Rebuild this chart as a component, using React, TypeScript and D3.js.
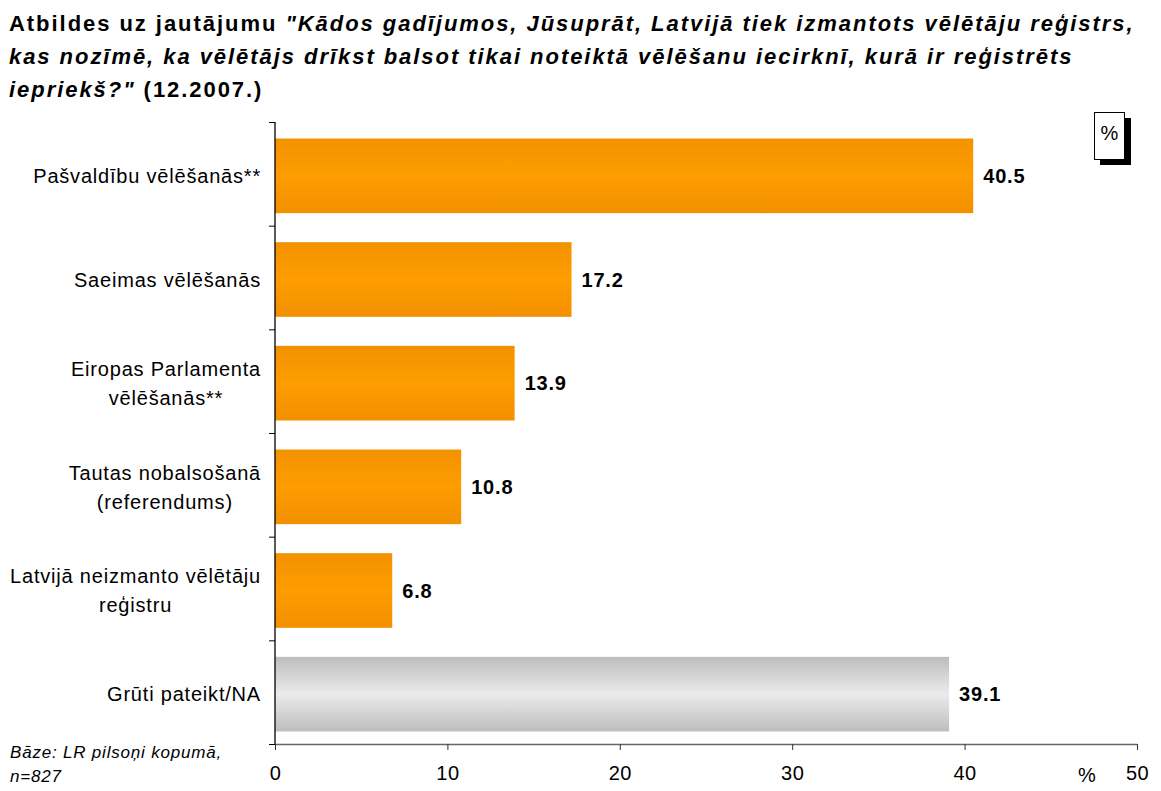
import React, { useEffect, useRef } from "react";
import * as d3 from "d3";

const categories = [
  ["Pašvaldību vēlēšanās**"],
  ["Saeimas vēlēšanās"],
  ["Eiropas Parlamenta", "vēlēšanās**"],
  ["Tautas nobalsošanā", "(referendums)"],
  ["Latvijā neizmanto vēlētāju", "reģistru"],
  ["Grūti pateikt/NA"],
];
const values = [40.5, 17.2, 13.9, 10.8, 6.8, 39.1];
const grayBars = [false, false, false, false, false, true];
const xTicks = [0, 10, 20, 30, 40, 50];

const App = () => {
  const ref = useRef<HTMLDivElement>(null);

  useEffect(() => {
    const el = ref.current;
    if (!el) return;
    el.innerHTML = "";
    const width = 1161;
    const height = 791;
    const marginLeft = 275;
    const marginRight = 24;
    const marginTop = 122;
    const marginBottom = 47;

    const svg = d3
      .create("svg")
      .attr("width", width)
      .attr("height", height)
      .attr("viewBox", [0, 0, width, height])
      .style("display", "block")
      .style("font-family", "'Liberation Sans', Arial, sans-serif");
    el.appendChild(svg.node()!);

    const defs = svg.append("defs");
    const orange = defs
      .append("linearGradient")
      .attr("id", "orange")
      .attr("x1", 0)
      .attr("y1", 0)
      .attr("x2", 0)
      .attr("y2", 1);
    orange.append("stop").attr("offset", "0%").attr("stop-color", "#f39200");
    orange.append("stop").attr("offset", "50%").attr("stop-color", "#fd9d00");
    orange.append("stop").attr("offset", "100%").attr("stop-color", "#f29000");
    const gray = defs
      .append("linearGradient")
      .attr("id", "gray")
      .attr("x1", 0)
      .attr("y1", 0)
      .attr("x2", 0)
      .attr("y2", 1);
    gray.append("stop").attr("offset", "0%").attr("stop-color", "#bdbdbd");
    gray.append("stop").attr("offset", "50%").attr("stop-color", "#ebebeb");
    gray.append("stop").attr("offset", "100%").attr("stop-color", "#bdbdbd");

    // frame
    svg
      .append("rect")
      .attr("x", 2.5)
      .attr("y", 2.5)
      .attr("width", width + 10)
      .attr("height", height + 10)
      .attr("fill", "white")
      .attr("stroke", "#000")
      .attr("stroke-width", 1.5);

    // title
    const title = svg
      .append("text")
      .attr("font-size", 22)
      .attr("font-weight", "bold")
      .attr("letter-spacing", 1.95)
      .attr("fill", "#000");
    const l1 = title.append("tspan").attr("x", 9).attr("y", 31);
    l1.append("tspan").text("Atbildes uz jautājumu ");
    l1.append("tspan")
      .attr("font-style", "italic")
      .text('"Kādos gadījumos, Jūsuprāt, Latvijā tiek izmantots vēlētāju reģistrs,');
    title
      .append("tspan")
      .attr("x", 9)
      .attr("y", 64)
      .attr("font-style", "italic")
      .text("kas nozīmē, ka vēlētājs drīkst balsot tikai noteiktā vēlēšanu iecirknī, kurā ir reģistrēts");
    const l3 = title.append("tspan").attr("x", 9).attr("y", 97);
    l3.append("tspan").attr("font-style", "italic").text('iepriekš?"');
    l3.append("tspan").text(" (12.2007.)");

    const x = d3
      .scaleLinear()
      .domain([0, 50])
      .range([marginLeft, width - marginRight]);

    const y = d3
      .scaleBand()
      .domain(categories.map((d, i) => String(i)))
      .range([marginTop, height - marginBottom])
      .paddingInner(0.28)
      .paddingOuter(0.14);

    const data = values.map((v, i) => ({ key: String(i), v, gray: grayBars[i], label: categories[i] }));

    // bars
    svg
      .append("g")
      .selectAll()
      .data(data)
      .join("rect")
      .attr("x", x(0))
      .attr("y", (d) => y(d.key)! + 2)
      .attr("width", (d) => x(d.v) - x(0))
      .attr("height", y.bandwidth())
      .attr("fill", (d) => (d.gray ? "url(#gray)" : "url(#orange)"));

    // value labels
    svg
      .append("g")
      .attr("font-size", 20)
      .attr("font-weight", "bold")
      .attr("letter-spacing", 0.8)
      .selectAll()
      .data(data)
      .join("text")
      .attr("x", (d) => x(d.v) + 10)
      .attr("y", (d) => y(d.key)! + 2 + y.bandwidth() / 2)
      .attr("dy", "0.36em")
      .text((d) => d.v.toFixed(1));

    // category labels: centred lines, block right-aligned to the axis
    const labels = svg
      .append("g")
      .attr("font-size", 20)
      .attr("letter-spacing", 0.8)
      .attr("text-anchor", "middle")
      .selectAll()
      .data(data)
      .join("text");
    labels
      .selectAll("tspan")
      .data((d) => d.label.map((t, j) => ({ t, j, n: d.label.length })))
      .join("tspan")
      .attr("x", 0)
      .attr("y", (d) => (d.j - (d.n - 1) / 2) * 29)
      .attr("dy", "0.36em")
      .text((d) => d.t);
    labels.attr("transform", function (d) {
      const spans = d3.select(this).selectAll<SVGTSpanElement, unknown>("tspan").nodes();
      const w = d3.max(spans, (s) => s.getComputedTextLength()) || 0;
      return `translate(${261 - w / 2},${y(d.key)! + 2 + y.bandwidth() / 2})`;
    });

    // y axis
    const step = y.step();
    const y0 = marginTop;
    const yAxis = svg.append("g");
    yAxis
      .append("line")
      .attr("x1", x(0))
      .attr("x2", x(0))
      .attr("y1", y0)
      .attr("y2", height - marginBottom)
      .attr("stroke", "#000")
      .attr("stroke-width", 1.3);
    yAxis
      .selectAll("line.tick")
      .data(d3.range(categories.length + 1))
      .join("line")
      .attr("class", "tick")
      .attr("x1", x(0) - 6)
      .attr("x2", x(0))
      .attr("y1", (i) => y0 + i * step + 0.5)
      .attr("y2", (i) => y0 + i * step + 0.5)
      .attr("stroke", "#000");

    // x axis
    const xAxis = svg
      .append("g")
      .attr("transform", `translate(0,${height - marginBottom})`)
      .call(d3.axisBottom(x).tickValues(xTicks).tickSize(6).tickPadding(16))
      .call((g) => g.select(".domain").attr("stroke", "#666").attr("stroke-width", 1.5).attr("d", `M${x(0)},0.5H${x(50)}`));
    xAxis.selectAll(".tick line").attr("stroke", "#333");
    xAxis
      .selectAll(".tick text")
      .attr("font-size", 20)
      .attr("letter-spacing", 0.5)
      .attr("font-family", "'Liberation Sans', Arial, sans-serif")
      .attr("fill", "#000");
    svg
      .append("text")
      .attr("x", x(47.1))
      .attr("y", 782)
      .attr("font-size", 20)
      .attr("text-anchor", "middle")
      .text("%");

    // unit box
    const bx = 1094;
    const by = 112;
    svg.append("rect").attr("x", bx + 6).attr("y", by + 6).attr("width", 31).attr("height", 47).attr("fill", "#000");
    svg
      .append("rect")
      .attr("x", bx + 0.5)
      .attr("y", by + 0.5)
      .attr("width", 30)
      .attr("height", 47)
      .attr("fill", "#fff")
      .attr("stroke", "#000");
    svg
      .append("text")
      .attr("x", bx + 15.5)
      .attr("y", by + 28)
      .attr("font-size", 20)
      .attr("text-anchor", "middle")
      .text("%");

    // footnote
    const foot = svg.append("text").attr("font-size", 17).attr("font-style", "italic").attr("letter-spacing", 0.8);
    foot.append("tspan").attr("x", 10).attr("y", 758).text("Bāze: LR pilsoņi kopumā,");
    foot.append("tspan").attr("x", 10).attr("y", 782).text("n=827");
  }, []);

  return <div ref={ref} style={{ margin: -8 }}></div>;
};

export default App;
